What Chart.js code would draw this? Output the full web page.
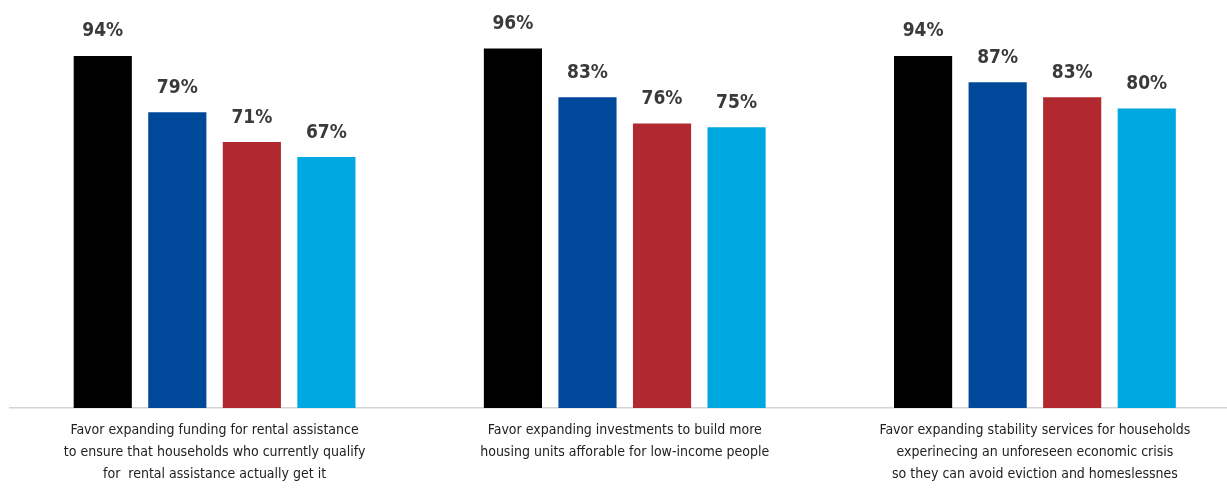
<!DOCTYPE html>
<html lang="en">
<head>
    <meta charset="UTF-8">
    <title>Housing support by group</title>
    <script src="https://cdn.jsdelivr.net/npm/chart.js"></script>
    <style>
        html, body { margin: 0; padding: 0; background: #fff; overflow: hidden; }
        .wrap { width: 1245px; height: 494px; }
    </style>
</head>
<body>
    <div class="wrap"><canvas id="myChart" width="1245" height="494"></canvas></div>

    <script>
        const categories = [
            ["Favor expanding funding for rental assistance", "to ensure that households who currently qualify", "for  rental assistance actually get it"],
            ["Favor expanding investments to build more", "housing units afforable for low-income people"],
            ["Favor expanding stability services for households", "experinecing an unforeseen economic crisis", "so they can avoid eviction and homeslessnes"]
        ];
        const series1 = [94, 96, 94];
        const series2 = [79, 83, 87];
        const series3 = [71, 76, 83];
        const series4 = [67, 75, 80];
        const colors = ["#000000", "#00489a", "#b2282f", "#00a8e1"];

        // percent labels above each bar
        const valueLabels = {
            id: "valueLabels",
            afterDatasetsDraw(chart) {
                const ctx = chart.ctx;
                ctx.save();
                ctx.font = "bold 19px 'DejaVu Sans Condensed', sans-serif";
                ctx.fillStyle = "#3a3a3a";
                ctx.textAlign = "center";
                ctx.textBaseline = "bottom";
                chart.data.datasets.forEach((ds, i) => {
                    chart.getDatasetMeta(i).data.forEach((bar, j) => {
                        ctx.fillText(ds.data[j] + "%", bar.x, bar.y - 15);
                    });
                });
                ctx.restore();
            }
        };

        const ctx = document.getElementById("myChart").getContext("2d");
        new Chart(ctx, {
            type: "bar",
            data: {
                labels: categories,
                datasets: [series1, series2, series3, series4].map((d, i) => ({
                    data: d,
                    backgroundColor: colors[i],
                    barPercentage: 0.78,
                    categoryPercentage: 0.727
                }))
            },
            options: {
                responsive: false,
                animation: false,
                layout: { padding: { left: 9.5, right: 5, top: 33.5, bottom: 0 } },
                plugins: {
                    legend: { display: false },
                    tooltip: { enabled: false }
                },
                scales: {
                    x: {
                        grid: { display: false, drawTicks: false },
                        border: { display: true, color: "#d4d4d4", width: 1.5 },
                        ticks: {
                            color: "#222",
                            padding: 11,
                            maxRotation: 0,
                            autoSkip: false,
                            font: { family: "'DejaVu Sans Condensed', sans-serif", size: 14, lineHeight: 1.57 }
                        },
                        afterFit: s => { s.height = 86; }
                    },
                    y: {
                        display: false,
                        min: 0,
                        max: 100
                    }
                }
            },
            plugins: [valueLabels]
        });
    </script>
</body>
</html>
